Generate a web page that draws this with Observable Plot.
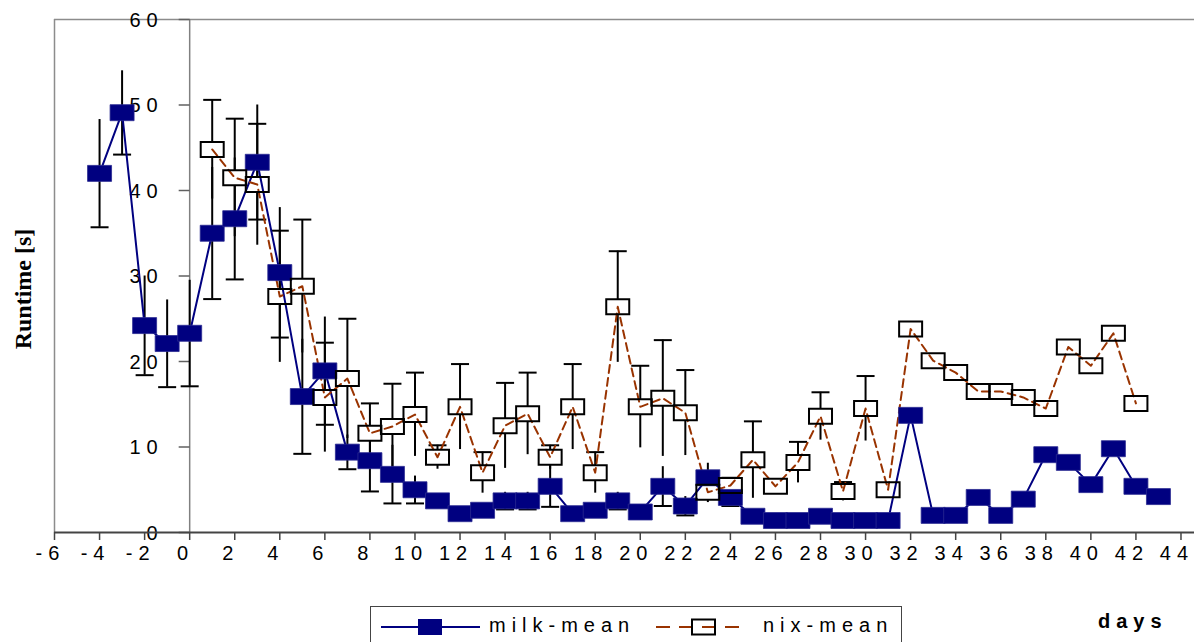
<!DOCTYPE html>
<html>
<head>
<meta charset="utf-8">
<script src="https://cdn.jsdelivr.net/npm/d3@7"></script>
<script src="https://cdn.jsdelivr.net/npm/@observablehq/plot@0.6"></script>
<style>
  html, body { margin: 0; padding: 0; background: #fff; }
  #wrap { position: relative; width: 1194px; height: 642px; overflow: hidden; font-family: "Liberation Sans", Arial, sans-serif; }
  #chart svg text { letter-spacing: 6px; }
  #ylabel { position: absolute; left: 23px; top: 289px; transform: translate(-50%, -50%) rotate(-90deg); font-family: "Liberation Serif", "Times New Roman", serif; font-weight: bold; font-size: 24px; white-space: nowrap; }
  #legend { position: absolute; left: 370px; top: 606px; width: 532px; height: 60px; border: 1px solid #444; box-sizing: border-box; background: #fff; }
  .lg { position: absolute; top: 7px; font-size: 20px; letter-spacing: 6px; }
  #days { position: absolute; left: 1098px; top: 610px; font-size: 20px; font-weight: bold; letter-spacing: 6px; }
</style>
</head>
<body>
<div id="wrap">
  <div id="chart"></div>
  <div id="ylabel">Runtime [s]</div>
  <div id="legend">
    <svg style="position:absolute;left:10px;top:8px" width="100" height="24">
      <line x1="0" x2="99" y1="12" y2="12" stroke="#000080" stroke-width="2"/>
      <rect x="37" y="4" width="24" height="16" fill="#000080"/>
    </svg>
    <span class="lg" style="left:118px">milk-mean</span>
    <svg style="position:absolute;left:285px;top:8px" width="92" height="24">
      <line x1="0" x2="90" y1="12" y2="12" stroke="#993300" stroke-width="2" stroke-dasharray="14,9"/>
      <rect x="36" y="4.5" width="23" height="15" fill="none" stroke="#000" stroke-width="2"/>
    </svg>
    <span class="lg" style="left:392px">nix-mean</span>
  </div>
  <div id="days">days</div>
</div>
<script>
// ---- data ----
const milkDays = d3.range(-4, 44);
const milkMean = [42.0, 49.1, 24.2, 22.1, 23.3, 35.0, 36.7, 43.3, 30.4, 15.9, 18.9, 9.4, 8.4, 6.8, 5.0, 3.7,
  2.2, 2.6, 3.7, 3.7, 5.4, 2.2, 2.6, 3.7, 2.4, 5.4, 3.1, 6.4, 4.1, 1.9, 1.4, 1.4, 1.9, 1.4, 1.4, 1.4,
  13.7, 2.0, 2.0, 4.1, 2.0, 3.9, 9.1, 8.2, 5.6, 9.8, 5.4, 4.2];
const milkErr = [6.3, 4.9, 5.8, 5.1, 6.2, 7.7, 7.1, 6.7, 7.6, 6.7, 6.3, 2.0, 3.6, 3.4, 1.6, null,
  null, null, 1.0, 1.0, 2.4, null, null, 1.0, null, 2.3, 1.1, 1.7, 1.0, null, null, null, null, null, null, null,
  null, null, null, null, null, null, null, null, null, null, null, null];

const nixDays = d3.range(1, 43);
const nixMean = [44.8, 41.5, 40.7, 27.6, 28.8, 15.8, 18.0, 11.6, 12.4, 13.8,
  8.8, 14.7, 7.0, 12.5, 13.9, 8.8, 14.7, 7.0, 26.4, 14.7,
  15.7, 14.0, 4.7, 5.5, 8.5, 5.4, 8.2, 13.6, 4.8, 14.5,
  5.0, 23.8, 20.1, 18.7, 16.5, 16.5, 15.8, 14.5, 21.7, 19.5, 23.3, 15.1];
const nixErr = [5.8, 6.9, 7.1, 7.7, 7.8, 6.4, 7.0, 3.5, 5.0, 4.9,
  1.4, 5.0, 2.4, 5.0, 4.8, 1.4, 5.0, 2.4, 6.5, 4.8,
  6.8, 5.0, 1.2, 0.9, 4.5, 0.8, 2.4, 2.8, 1.1, 3.8,
  0.6, null, null, null, null, null, null, null, null, null, null, null];

const xTicks = d3.range(-6, 45, 2);
const yTicks = [0, 10, 20, 30, 40, 50, 60];

// ---- tables ----
const milk = milkDays.map((d, i) => ({day: d, v: milkMean[i], e: milkErr[i]}));
const nix = nixDays.map((d, i) => ({day: d, v: nixMean[i], e: nixErr[i]}));
const milkBars = milk.filter(d => d.e != null);
const nixBars = nix.filter(d => d.e != null);

// ---- custom symbols ----
const milkSym = {draw(c) { c.moveTo(-12, -8); c.lineTo(12, -8); c.lineTo(12, 8); c.lineTo(-12, 8); c.closePath(); }};
const nixSym = {draw(c) { c.moveTo(-11.5, -7.5); c.lineTo(11.5, -7.5); c.lineTo(11.5, 7.5); c.lineTo(-11.5, 7.5); c.closePath(); }};
const capSym = {draw(c) { c.moveTo(-9, 0); c.lineTo(9, 0); }};
const yTickSym = {draw(c) { c.moveTo(-11, 0); c.lineTo(0, 0); }};

const chart = Plot.plot({
  width: 1194,
  height: 585,
  marginLeft: 54,
  marginRight: 0,
  marginTop: 19,
  marginBottom: 53,
  style: {fontFamily: "'Liberation Sans', Arial, sans-serif", fontSize: "20px", color: "#000", background: "#fff", overflow: "visible"},
  x: {domain: [-6, 44.6], axis: null},
  y: {domain: [0, 60], axis: null},
  marks: [
    Plot.ruleY([60], {stroke: "#8c8c8c", strokeWidth: 1.5}),
    Plot.ruleX([-6], {stroke: "#8c8c8c", strokeWidth: 1.5}),
    Plot.ruleX([0], {stroke: "#808080", strokeWidth: 1.5}),
    Plot.dot(yTicks, {x: 0, y: d => d, symbol: yTickSym, stroke: "#606060", strokeWidth: 1.5, fill: "none"}),
    Plot.text(yTicks, {x: 0, y: d => d, text: d => String(d), textAnchor: "end", dx: -26, dy: 1, fontSize: 20}),
    Plot.ruleY([0], {stroke: "#444", strokeWidth: 2}),
    // x-axis tick marks
    Plot.axisX(xTicks, {label: null, tickSize: 8, stroke: "#444", strokeWidth: 1.5, tickFormat: () => ""}),
    // x-axis tick labels
    Plot.axisX(xTicks, {label: null, tickSize: 0, tickPadding: 13, fontSize: 20, dx: -4, tickFormat: d => String(d)}),
    // error bars
    Plot.ruleX(milkBars, {x: "day", y1: d => d.v - d.e, y2: d => d.v + d.e, stroke: "#000", strokeWidth: 2}),
    Plot.dot(milkBars, {x: "day", y: d => d.v - d.e, symbol: capSym, stroke: "#000", strokeWidth: 2, fill: "none"}),
    Plot.ruleX(nixBars, {x: "day", y1: d => d.v - d.e, y2: d => d.v + d.e, stroke: "#000", strokeWidth: 2}),
    Plot.dot(nixBars, {x: "day", y: d => d.v + d.e, symbol: capSym, stroke: "#000", strokeWidth: 2, fill: "none"}),
    // white interior of open markers
    Plot.dot(nix, {x: "day", y: "v", symbol: nixSym, fill: "#fff", stroke: "none"}),
    // lines
    Plot.line(milk, {x: "day", y: "v", stroke: "#000080", strokeWidth: 2}),
    Plot.line(nix, {x: "day", y: "v", stroke: "#993300", strokeWidth: 2, strokeDasharray: "8,5"}),
    // markers
    Plot.dot(milk, {x: "day", y: "v", symbol: milkSym, fill: "#000080", stroke: "#2a2a90", strokeWidth: 0.8}),
    Plot.dot(nix, {x: "day", y: "v", symbol: nixSym, fill: "none", stroke: "#000", strokeWidth: 2})
  ]
});
document.getElementById("chart").appendChild(chart);
</script>
</body>
</html>
